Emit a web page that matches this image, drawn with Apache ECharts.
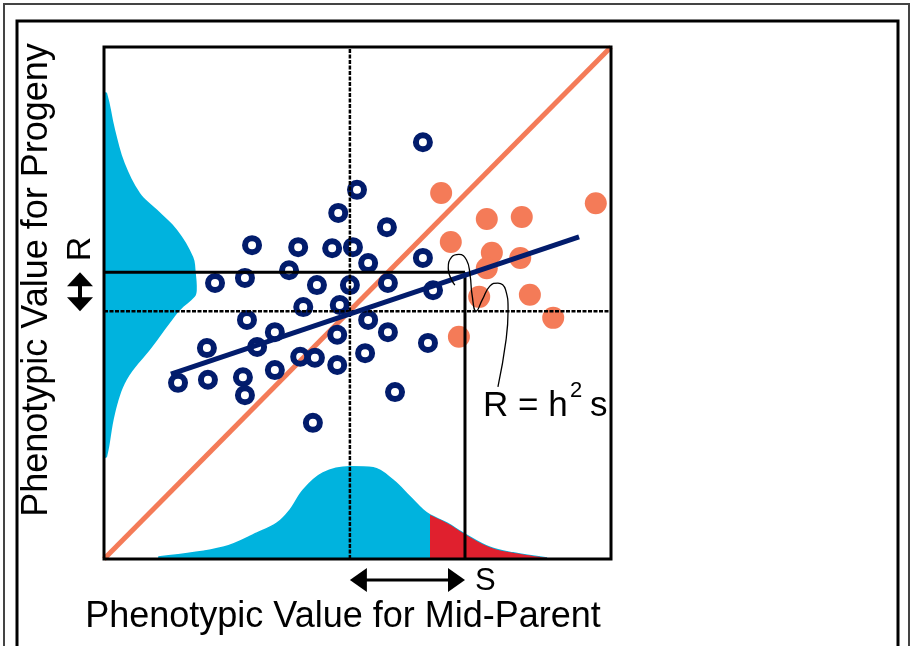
<!DOCTYPE html>
<html><head><meta charset="utf-8">
<script src="https://cdn.jsdelivr.net/npm/echarts@6/dist/echarts.min.js"></script>
<style>html,body{margin:0;padding:0;background:#fff}#c{width:913px;height:646px}</style>
</head><body><div id="c"></div>
<script>
// ---- texts ----
const xTitle = 'Phenotypic Value for Mid-Parent';
const yTitle = 'Phenotypic Value for Progeny';
const formulaMain = 'R = h';
const formulaSup = '2';
const formulaTail = 's';
const labelS = 'S';
const labelR = 'R';

// ---- data (0-100 scale on both axes) ----
const progenyPoints = [
  [62.9,81.4],[49.9,72.1],[46.2,67.6],[55.8,64.8],[29.2,61.3],[38.3,60.9],[45.0,60.7],[49.1,60.9],
  [62.9,58.8],[52.1,57.8],[36.5,56.4],[27.8,54.9],[21.9,53.9],[42.0,53.5],[48.5,53.5],[56.0,53.9],
  [64.9,52.5],[39.3,49.2],[46.5,49.6],[28.2,46.7],[52.1,46.7],[33.7,44.3],[56.0,44.3],[46.0,43.8],
  [20.3,41.2],[30.2,41.4],[38.7,39.5],[41.6,39.3],[46.0,37.9],[51.5,40.2],[14.6,34.4],[20.5,35.0],
  [27.4,35.5],[33.7,36.9],[27.8,32.0],[57.4,32.6],[41.2,26.6],[63.9,42.2]
];
const selectedPoints = [
  [66.5,71.5],[97.0,69.5],[75.5,66.4],[82.4,66.8],[68.4,61.9],[76.5,59.8],
  [82.1,58.8],[75.5,56.8],[84.0,51.6],[74.0,51.2],[88.6,47.1],[70.0,43.4]
];
// parent distribution: [x, height]
const parentDensity = [
  [10.7,0.4],[23.5,2.3],[30.2,5.1],[34.1,7.0],[36.7,9.6],[39.3,13.5],[43.2,16.8],[48.5,18.0],
  [53.1,17.8],[57.0,15.4],[60.4,12.1],[62.9,9.6],[64.3,8.6],[67.7,7.0],[70.8,5.1],[76.1,2.3],
  [80.7,1.2],[87.4,0.2]
];
// progeny distribution: [y, width]
const progenyDensity = [
  [91.0,0.6],[83.8,2.2],[77.3,4.1],[71.5,7.1],[68.2,10.5],[64.3,14.4],[59.0,17.6],[55.9,18.1],
  [52.5,18.3],[51.2,17.9],[48.6,15.0],[46.1,13.0],[41.4,9.5],[35.0,4.5],[28.5,2.2],[19.9,0.6]
];
const meanParent = 48.5;
const meanProgeny = 48.4;
const selectedMean = 71.2;
const responseMean = 56.0;
const selectionCut = 64.3;
const regressionEnds = [[13.2,36.1],[93.7,62.9]];
const identityEnds = [[0,0],[100,100]];
const leaderPath = [
  [69.2,53.5],[67.9,56.8],[68.6,59.0],[70.0,59.5],[71.5,58.4],[72.2,55.5],[72.6,51.6],[73.4,48.4],
  [74.6,50.6],[76.1,53.3],[77.7,53.9],[79.2,52.6],[79.7,48.6],[79.3,42.8],[77.7,33.6]
];

// ---- styles ----
const CYAN = '#00B3DE', RED = '#E0202E', SALMON = '#F47B58', NAVY = '#021C6C';
const FONT = '"Liberation Sans", Arial, Helvetica, sans-serif';

const chart = echarts.init(document.getElementById('c'), null, {renderer:'canvas'});

function lineSeries(data, color, width, type, z) {
  return {type:'line', data:data, symbol:'none', silent:true, z:z, animation:false,
    lineStyle:{color:color, width:width, type:type||'solid', opacity:1}, clip:false};
}

const option = {
  animation:false,
  backgroundColor:'#fff',
  grid:{left:104, top:47, width:507, height:512, show:false},
  xAxis:{type:'value', min:0, max:100, show:false},
  yAxis:{type:'value', min:0, max:100, show:false},
  series:[
    { // progeny distribution (left)
      type:'custom', silent:true, z:1, data:[[0,0]], encode:{x:0,y:1},
      renderItem:function(params, api){
        const pts = [api.coord([0, progenyDensity[0][0]])];
        progenyDensity.forEach(function(d){ pts.push(api.coord([d[1], d[0]])); });
        pts.push(api.coord([0, progenyDensity[progenyDensity.length-1][0]]));
        return {type:'polygon', shape:{points:pts, smooth:0.35}, style:{fill:CYAN}};
      }
    },
    { // parent distribution (bottom)
      type:'line', data:parentDensity, symbol:'none', silent:true, z:1, smooth:0.35,
      lineStyle:{color:CYAN, width:1.5}, areaStyle:{color:CYAN, opacity:1}
    },
    { // selected tail
      type:'line', data:parentDensity.filter(function(d){return d[0]>=selectionCut;}),
      symbol:'none', silent:true, z:2, smooth:0.35,
      lineStyle:{width:0}, areaStyle:{color:RED, opacity:1}
    },
    lineSeries(identityEnds, SALMON, 5, 'solid', 3),
    { // progeny (open rings)
      type:'scatter', data:progenyPoints, symbol:'circle', symbolSize:14, silent:true, z:4,
      itemStyle:{color:'rgba(0,0,0,0)', borderColor:NAVY, borderWidth:6, opacity:1}
    },
    { // selected parents
      type:'scatter', data:selectedPoints, symbol:'circle', symbolSize:22, silent:true, z:4,
      itemStyle:{color:SALMON, opacity:1}
    },
    lineSeries([[meanParent,0],[meanParent,100]], '#000', 2.5, [4,1.5], 5),
    lineSeries([[0,meanProgeny],[100,meanProgeny]], '#000', 2.5, [4,1.5], 5),
    lineSeries([[0,responseMean],[selectedMean,responseMean]], '#000', 3, 'solid', 5),
    lineSeries([[selectedMean,0],[selectedMean,responseMean]], '#000', 3, 'solid', 5),
    lineSeries(regressionEnds, NAVY, 5, 'solid', 6),
    Object.assign(lineSeries(leaderPath, '#000', 1.3, 'solid', 7), {smooth:0.5})
  ]
};
chart.setOption(option);

// ---- overlays computed through the chart's scales ----
const p00 = chart.convertToPixel({gridIndex:0}, [0,0]);
const p11 = chart.convertToPixel({gridIndex:0}, [100,100]);
const xMean = chart.convertToPixel({gridIndex:0}, [meanParent,0])[0];
const xSel = chart.convertToPixel({gridIndex:0}, [selectedMean,0])[0];
const yResp = chart.convertToPixel({gridIndex:0}, [0,responseMean])[1];
const yMean = chart.convertToPixel({gridIndex:0}, [0,meanProgeny])[1];

const sy = 580, hl = 17, hh = 12;
const rx = 80, vhl = 14, vhw = 13;
const graphics = [
  {type:'rect', z:100, shape:{x:4, y:4, width:905, height:700}, style:{fill:null, stroke:'#444', lineWidth:2}},
  {type:'rect', z:100, shape:{x:17, y:21, width:881, height:700}, style:{fill:null, stroke:'#000', lineWidth:3}},
  {type:'rect', z:100, shape:{x:p00[0], y:p11[1], width:p11[0]-p00[0], height:p00[1]-p11[1]},
    style:{fill:null, stroke:'#000', lineWidth:3}},
  // S arrow
  {type:'line', z:100, shape:{x1:xMean+hl-2, y1:sy, x2:xSel-hl+2, y2:sy}, style:{stroke:'#000', lineWidth:3}},
  {type:'polygon', z:100, shape:{points:[[xMean,sy],[xMean+hl,sy-hh],[xMean+hl,sy+hh]]}, style:{fill:'#000'}},
  {type:'polygon', z:100, shape:{points:[[xSel,sy],[xSel-hl,sy-hh],[xSel-hl,sy+hh]]}, style:{fill:'#000'}},
  // R arrow
  {type:'line', z:100, shape:{x1:rx, y1:yResp+vhl-2, x2:rx, y2:yMean-vhl+2}, style:{stroke:'#000', lineWidth:4}},
  {type:'polygon', z:100, shape:{points:[[rx,yResp],[rx-vhw,yResp+vhl],[rx+vhw,yResp+vhl]]}, style:{fill:'#000'}},
  {type:'polygon', z:100, shape:{points:[[rx,yMean],[rx-vhw,yMean-vhl],[rx+vhw,yMean-vhl]]}, style:{fill:'#000'}},
  // texts
  {type:'text', z:100, x:343, y:617, style:{text:xTitle, font:'36px '+FONT, fill:'#000', align:'center', verticalAlign:'middle'}},
  {type:'text', z:100, x:37, y:280, rotation:Math.PI/2, style:{text:yTitle, font:'36px '+FONT, fill:'#000', align:'center', verticalAlign:'middle'}},
  {type:'text', z:100, x:81, y:249, rotation:Math.PI/2, style:{text:labelR, font:'34px '+FONT, fill:'#000', align:'center', verticalAlign:'middle'}},
  {type:'text', z:100, x:xSel+10, y:581, style:{text:labelS, font:'31px '+FONT, fill:'#000', align:'left', verticalAlign:'middle'}},
  {type:'text', z:100, x:483, y:406, style:{text:formulaMain, font:'35px '+FONT, fill:'#000', align:'left', verticalAlign:'middle'}},
  {type:'text', z:100, x:576, y:391, style:{text:formulaSup, font:'22px '+FONT, fill:'#000', align:'center', verticalAlign:'middle'}},
  {type:'text', z:100, x:590, y:406, style:{text:formulaTail, font:'35px '+FONT, fill:'#000', align:'left', verticalAlign:'middle'}}
];
chart.setOption({graphic:{elements:graphics}});
</script>
</body></html>
